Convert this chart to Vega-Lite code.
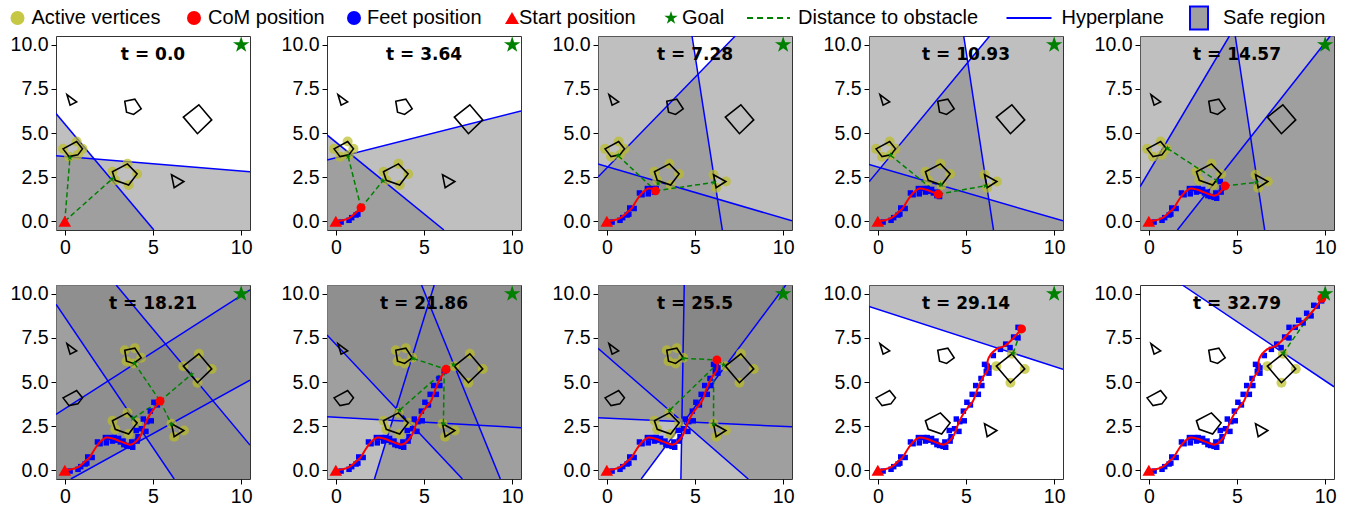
{
"$schema":"https://vega.github.io/schema/vega-lite/v6.json",
"padding":{"left":7,"top":7,"right":5,"bottom":5},
"background":"white",
"columns":5,
"spacing":{"row":55,"column":77},
"bounds":"flush",
"resolve":{"scale":{"fill":"independent","shape":"independent"},"legend":{"fill":"independent","shape":"independent"}},
"datasets":{
"obst":[
{"ob":"o1","k":0,"x":0.12,"y":7.18},{"ob":"o1","k":1,"x":0.67,"y":6.76},{"ob":"o1","k":2,"x":0.3,"y":6.58},
{"ob":"o2","k":0,"x":3.4,"y":6.8},{"ob":"o2","k":1,"x":3.97,"y":6.92},{"ob":"o2","k":2,"x":4.33,"y":6.37},{"ob":"o2","k":3,"x":3.9,"y":6.05},{"ob":"o2","k":4,"x":3.5,"y":6.18},
{"ob":"o3","k":0,"x":6.72,"y":5.9},{"ob":"o3","k":1,"x":7.6,"y":6.6},{"ob":"o3","k":2,"x":8.33,"y":5.74},{"ob":"o3","k":3,"x":7.52,"y":4.96},
{"ob":"o4","k":0,"x":-0.1,"y":4.1},{"ob":"o4","k":1,"x":0.67,"y":4.52},{"ob":"o4","k":2,"x":1.0,"y":4.1},{"ob":"o4","k":3,"x":0.74,"y":3.76},{"ob":"o4","k":4,"x":0.24,"y":3.66},
{"ob":"o5","k":0,"x":2.7,"y":2.8},{"ob":"o5","k":1,"x":3.55,"y":3.25},{"ob":"o5","k":2,"x":4.1,"y":2.68},{"ob":"o5","k":3,"x":3.62,"y":2.05},{"ob":"o5","k":4,"x":2.86,"y":2.32},
{"ob":"o6","k":0,"x":6.05,"y":2.63},{"ob":"o6","k":1,"x":6.75,"y":2.25},{"ob":"o6","k":2,"x":6.2,"y":1.9}
],
"traj":[
{"s":0,"x":0,"y":0},{"s":1,"x":0.4,"y":0.05},{"s":2,"x":0.8,"y":0.2},{"s":3,"x":1.1,"y":0.45},{"s":4,"x":1.43,"y":0.76},
{"s":5,"x":1.7,"y":1.2},{"s":6,"x":2.0,"y":1.6},{"s":7,"x":2.35,"y":1.85},{"s":8,"x":2.76,"y":1.78},{"s":9,"x":3.1,"y":1.65},
{"s":10,"x":3.43,"y":1.53},{"s":11,"x":3.75,"y":1.45},{"s":12,"x":4.0,"y":1.6},{"s":13,"x":4.32,"y":2.0},{"s":14,"x":4.55,"y":2.6},
{"s":15,"x":4.85,"y":3.2},{"s":16,"x":5.15,"y":3.6},{"s":17,"x":5.4,"y":3.92},{"s":18,"x":5.65,"y":4.6},{"s":19,"x":5.95,"y":5.25},
{"s":20,"x":6.25,"y":5.72},{"s":21,"x":6.24,"y":6.25},{"s":22,"x":6.7,"y":6.85},{"s":23,"x":7.2,"y":7.05},{"s":24,"x":7.65,"y":7.45},
{"s":25,"x":8.15,"y":8.01},{"s":26,"x":8.6,"y":8.3},{"s":27,"x":9.05,"y":8.75},{"s":28,"x":9.45,"y":9.2},{"s":29,"x":9.81,"y":9.75}
],
"feet":[
{"s":1,"x":0.3,"y":-0.05},{"s":1.5,"x":0.75,"y":0.05},{"s":2,"x":0.9,"y":0.2},{"s":3,"x":1.15,"y":0.35},{"s":3,"x":1.25,"y":0.4},
{"s":4.5,"x":1.3,"y":0.75},{"s":4.5,"x":1.55,"y":0.72},{"s":5.5,"x":1.85,"y":1.6},{"s":6,"x":2.0,"y":1.5},{"s":7,"x":2.3,"y":1.85},
{"s":7,"x":2.35,"y":1.55},{"s":7.5,"x":2.6,"y":1.85},{"s":8,"x":2.7,"y":1.65},{"s":8,"x":2.8,"y":1.85},{"s":8.5,"x":2.95,"y":1.7},
{"s":9,"x":3.05,"y":1.8},{"s":9,"x":3.15,"y":1.6},{"s":9.5,"x":3.3,"y":1.65},{"s":10,"x":3.35,"y":1.45},{"s":10,"x":3.5,"y":1.4},
{"s":10.5,"x":3.7,"y":1.35},{"s":11,"x":3.8,"y":1.6},{"s":11,"x":3.85,"y":1.3},{"s":12,"x":4.1,"y":1.65},{"s":13,"x":4.05,"y":2.25},
{"s":13,"x":4.15,"y":1.9},{"s":13.5,"x":4.35,"y":2.35},{"s":14,"x":4.45,"y":2.9},{"s":14,"x":4.6,"y":2.2},{"s":14.5,"x":4.65,"y":2.75},
{"s":15,"x":4.9,"y":2.8},{"s":15,"x":4.85,"y":3.35},{"s":16,"x":5.05,"y":3.85},{"s":16.5,"x":5.25,"y":3.7},{"s":17.5,"x":5.35,"y":4.3},
{"s":18,"x":5.55,"y":4.8},{"s":18,"x":5.7,"y":4.3},{"s":19,"x":5.85,"y":5.2},{"s":19,"x":5.9,"y":4.8},{"s":20,"x":6.15,"y":5.6},
{"s":20.5,"x":6.05,"y":6.0},{"s":20.5,"x":6.3,"y":5.8},{"s":21,"x":6.2,"y":5.9},{"s":21,"x":6.3,"y":5.5},{"s":22,"x":6.55,"y":6.5},
{"s":22.5,"x":6.95,"y":6.85},{"s":23,"x":7.25,"y":7.15},{"s":23.5,"x":7.5,"y":6.95},{"s":24,"x":7.7,"y":7.55},{"s":24.5,"x":7.95,"y":7.5},
{"s":25,"x":7.95,"y":8.1},{"s":25.5,"x":8.3,"y":8.1},{"s":26,"x":8.5,"y":8.5},{"s":26.5,"x":8.75,"y":8.35},{"s":27,"x":8.95,"y":8.9},
{"s":27.5,"x":9.2,"y":8.75},{"s":28,"x":9.35,"y":9.35},{"s":28.5,"x":9.55,"y":9.3},{"s":29,"x":9.8,"y":9.6}
],
"regions":[
{"p":1,"id":"1a","k":0,"x":-0.5,"y":6.1},{"p":1,"id":"1a","k":1,"x":5.05,"y":-0.5},{"p":1,"id":"1a","k":2,"x":-0.5,"y":-0.5},
{"p":1,"id":"1b","k":0,"x":-0.5,"y":3.71},{"p":1,"id":"1b","k":1,"x":10.5,"y":2.8},{"p":1,"id":"1b","k":2,"x":10.5,"y":-0.5},{"p":1,"id":"1b","k":3,"x":-0.5,"y":-0.5},
{"p":2,"id":"2a","k":0,"x":-0.5,"y":4.89},{"p":2,"id":"2a","k":1,"x":6.13,"y":-0.5},{"p":2,"id":"2a","k":2,"x":-0.5,"y":-0.5},
{"p":2,"id":"2b","k":0,"x":-0.5,"y":3.47},{"p":2,"id":"2b","k":1,"x":10.5,"y":6.25},{"p":2,"id":"2b","k":2,"x":10.5,"y":-0.5},{"p":2,"id":"2b","k":3,"x":-0.5,"y":-0.5},
{"p":3,"id":"3a","k":0,"x":-0.5,"y":2.5},{"p":3,"id":"3a","k":1,"x":7.28,"y":10.5},{"p":3,"id":"3a","k":2,"x":10.5,"y":10.5},{"p":3,"id":"3a","k":3,"x":10.5,"y":-0.5},{"p":3,"id":"3a","k":4,"x":-0.5,"y":-0.5},
{"p":3,"id":"3b","k":0,"x":-0.5,"y":3.24},{"p":3,"id":"3b","k":1,"x":10.5,"y":0.02},{"p":3,"id":"3b","k":2,"x":10.5,"y":-0.5},{"p":3,"id":"3b","k":3,"x":-0.5,"y":-0.5},
{"p":3,"id":"3c","k":0,"x":4.83,"y":10.5},{"p":3,"id":"3c","k":1,"x":6.55,"y":-0.5},{"p":3,"id":"3c","k":2,"x":-0.5,"y":-0.5},{"p":3,"id":"3c","k":3,"x":-0.5,"y":10.5},
{"p":4,"id":"4a","k":0,"x":-0.5,"y":2.23},{"p":4,"id":"4a","k":1,"x":6.34,"y":10.5},{"p":4,"id":"4a","k":2,"x":10.5,"y":10.5},{"p":4,"id":"4a","k":3,"x":10.5,"y":-0.5},{"p":4,"id":"4a","k":4,"x":-0.5,"y":-0.5},
{"p":4,"id":"4b","k":0,"x":-0.5,"y":3.22},{"p":4,"id":"4b","k":1,"x":10.5,"y":0.02},{"p":4,"id":"4b","k":2,"x":10.5,"y":-0.5},{"p":4,"id":"4b","k":3,"x":-0.5,"y":-0.5},
{"p":4,"id":"4c","k":0,"x":4.87,"y":10.5},{"p":4,"id":"4c","k":1,"x":6.56,"y":-0.5},{"p":4,"id":"4c","k":2,"x":-0.5,"y":-0.5},{"p":4,"id":"4c","k":3,"x":-0.5,"y":10.5},
{"p":5,"id":"5a","k":0,"x":-0.5,"y":1.95},{"p":5,"id":"5a","k":1,"x":4.57,"y":10.5},{"p":5,"id":"5a","k":2,"x":10.5,"y":10.5},{"p":5,"id":"5a","k":3,"x":10.5,"y":-0.5},{"p":5,"id":"5a","k":4,"x":-0.5,"y":-0.5},
{"p":5,"id":"5b","k":0,"x":1.62,"y":-0.5},{"p":5,"id":"5b","k":1,"x":10.29,"y":10.5},{"p":5,"id":"5b","k":2,"x":10.5,"y":10.5},{"p":5,"id":"5b","k":3,"x":10.5,"y":-0.5},
{"p":5,"id":"5c","k":0,"x":4.9,"y":10.5},{"p":5,"id":"5c","k":1,"x":6.57,"y":-0.5},{"p":5,"id":"5c","k":2,"x":-0.5,"y":-0.5},{"p":5,"id":"5c","k":3,"x":-0.5,"y":10.5},
{"p":6,"id":"6a","k":0,"x":-0.5,"y":9.41},{"p":6,"id":"6a","k":1,"x":6.2,"y":-0.5},{"p":6,"id":"6a","k":2,"x":10.5,"y":-0.5},{"p":6,"id":"6a","k":3,"x":10.5,"y":10.5},{"p":6,"id":"6a","k":4,"x":-0.5,"y":10.5},
{"p":6,"id":"6b","k":0,"x":2.91,"y":10.5},{"p":6,"id":"6b","k":1,"x":10.5,"y":1.42},{"p":6,"id":"6b","k":2,"x":10.5,"y":-0.5},{"p":6,"id":"6b","k":3,"x":-0.5,"y":-0.5},{"p":6,"id":"6b","k":4,"x":-0.5,"y":10.5},
{"p":6,"id":"6c","k":0,"x":-0.5,"y":3.16},{"p":6,"id":"6c","k":1,"x":10.5,"y":10.23},{"p":6,"id":"6c","k":2,"x":10.5,"y":-0.5},{"p":6,"id":"6c","k":3,"x":-0.5,"y":-0.5},
{"p":6,"id":"6d","k":0,"x":0.34,"y":-0.5},{"p":6,"id":"6d","k":1,"x":10.5,"y":5.11},{"p":6,"id":"6d","k":2,"x":10.5,"y":10.5},{"p":6,"id":"6d","k":3,"x":-0.5,"y":10.5},{"p":6,"id":"6d","k":4,"x":-0.5,"y":-0.5},
{"p":7,"id":"7a","k":0,"x":-0.5,"y":7.67},{"p":7,"id":"7a","k":1,"x":7.18,"y":-0.5},{"p":7,"id":"7a","k":2,"x":10.5,"y":-0.5},{"p":7,"id":"7a","k":3,"x":10.5,"y":10.5},{"p":7,"id":"7a","k":4,"x":-0.5,"y":10.5},
{"p":7,"id":"7b","k":0,"x":-0.5,"y":3.03},{"p":7,"id":"7b","k":1,"x":10.5,"y":2.41},{"p":7,"id":"7b","k":2,"x":10.5,"y":10.5},{"p":7,"id":"7b","k":3,"x":-0.5,"y":10.5},
{"p":7,"id":"7c","k":0,"x":2.19,"y":-0.5},{"p":7,"id":"7c","k":1,"x":5.58,"y":10.5},{"p":7,"id":"7c","k":2,"x":10.5,"y":10.5},{"p":7,"id":"7c","k":3,"x":10.5,"y":-0.5},
{"p":7,"id":"7d","k":0,"x":4.86,"y":10.5},{"p":7,"id":"7d","k":1,"x":9.33,"y":-0.5},{"p":7,"id":"7d","k":2,"x":-0.5,"y":-0.5},{"p":7,"id":"7d","k":3,"x":-0.5,"y":10.5},
{"p":8,"id":"8a","k":0,"x":-0.5,"y":6.91},{"p":8,"id":"8a","k":1,"x":8.02,"y":-0.5},{"p":8,"id":"8a","k":2,"x":10.5,"y":-0.5},{"p":8,"id":"8a","k":3,"x":10.5,"y":10.5},{"p":8,"id":"8a","k":4,"x":-0.5,"y":10.5},
{"p":8,"id":"8b","k":0,"x":-0.5,"y":2.97},{"p":8,"id":"8b","k":1,"x":10.5,"y":2.46},{"p":8,"id":"8b","k":2,"x":10.5,"y":10.5},{"p":8,"id":"8b","k":3,"x":-0.5,"y":10.5},
{"p":8,"id":"8c","k":0,"x":4.2,"y":-0.5},{"p":8,"id":"8c","k":1,"x":4.39,"y":10.5},{"p":8,"id":"8c","k":2,"x":10.5,"y":10.5},{"p":8,"id":"8c","k":3,"x":10.5,"y":-0.5},
{"p":8,"id":"8d","k":0,"x":1.95,"y":-0.5},{"p":8,"id":"8d","k":1,"x":10.15,"y":10.5},{"p":8,"id":"8d","k":2,"x":-0.5,"y":10.5},{"p":8,"id":"8d","k":3,"x":-0.5,"y":-0.5},
{"p":9,"id":"9a","k":0,"x":-0.5,"y":9.28},{"p":9,"id":"9a","k":1,"x":10.5,"y":5.72},{"p":9,"id":"9a","k":2,"x":10.5,"y":10.5},{"p":9,"id":"9a","k":3,"x":-0.5,"y":10.5},
{"p":10,"id":"10a","k":0,"x":1.9,"y":10.5},{"p":10,"id":"10a","k":1,"x":10.5,"y":4.73},{"p":10,"id":"10a","k":2,"x":10.5,"y":10.5}
],
"dash":[
{"p":1,"id":"a","e":0,"x":0,"y":0},{"p":1,"id":"a","e":1,"x":0.29,"y":3.6},{"p":1,"id":"b","e":0,"x":0,"y":0},{"p":1,"id":"b","e":1,"x":2.68,"y":2.39},
{"p":2,"id":"a","e":0,"x":1.43,"y":0.76},{"p":2,"id":"a","e":1,"x":0.7,"y":3.66},{"p":2,"id":"b","e":0,"x":1.43,"y":0.76},{"p":2,"id":"b","e":1,"x":2.67,"y":2.29},
{"p":3,"id":"a","e":0,"x":2.76,"y":1.72},{"p":3,"id":"a","e":1,"x":0.65,"y":3.71},{"p":3,"id":"b","e":0,"x":2.76,"y":1.72},{"p":3,"id":"b","e":1,"x":2.91,"y":2.14},{"p":3,"id":"c","e":0,"x":2.76,"y":1.72},{"p":3,"id":"c","e":1,"x":6.07,"y":2.2},
{"p":4,"id":"a","e":0,"x":3.43,"y":1.53},{"p":4,"id":"a","e":1,"x":0.71,"y":3.75},{"p":4,"id":"b","e":0,"x":3.43,"y":1.53},{"p":4,"id":"b","e":1,"x":3.57,"y":2.08},{"p":4,"id":"c","e":0,"x":3.43,"y":1.53},{"p":4,"id":"c","e":1,"x":6.1,"y":2.01},
{"p":5,"id":"a","e":0,"x":4.32,"y":2.0},{"p":5,"id":"a","e":1,"x":1.05,"y":4.13},{"p":5,"id":"b","e":0,"x":4.32,"y":2.0},{"p":5,"id":"b","e":1,"x":3.9,"y":2.29},{"p":5,"id":"c","e":0,"x":4.32,"y":2.0},{"p":5,"id":"c","e":1,"x":6.1,"y":2.2},
{"p":6,"id":"a","e":0,"x":5.4,"y":3.92},{"p":6,"id":"a","e":1,"x":3.95,"y":6.06},{"p":6,"id":"b","e":0,"x":5.4,"y":3.92},{"p":6,"id":"b","e":1,"x":7.19,"y":5.44},{"p":6,"id":"c","e":0,"x":5.4,"y":3.92},{"p":6,"id":"c","e":1,"x":3.86,"y":2.94},{"p":6,"id":"d","e":0,"x":5.4,"y":3.92},{"p":6,"id":"d","e":1,"x":6.05,"y":2.61},
{"p":7,"id":"a","e":0,"x":6.25,"y":5.72},{"p":7,"id":"a","e":1,"x":4.38,"y":6.34},{"p":7,"id":"b","e":0,"x":6.25,"y":5.72},{"p":7,"id":"b","e":1,"x":6.67,"y":6.0},{"p":7,"id":"c","e":0,"x":6.25,"y":5.72},{"p":7,"id":"c","e":1,"x":3.62,"y":3.41},{"p":7,"id":"d","e":0,"x":6.15,"y":5.72},{"p":7,"id":"d","e":1,"x":6.1,"y":2.65},
{"p":8,"id":"a","e":0,"x":6.24,"y":6.25},{"p":8,"id":"a","e":1,"x":4.33,"y":6.34},{"p":8,"id":"b","e":0,"x":6.24,"y":6.25},{"p":8,"id":"b","e":1,"x":6.62,"y":5.98},{"p":8,"id":"c","e":0,"x":6.24,"y":6.0},{"p":8,"id":"c","e":1,"x":3.57,"y":3.41},{"p":8,"id":"d","e":0,"x":6.06,"y":6.0},{"p":8,"id":"d","e":1,"x":6.05,"y":2.61},
{"p":9,"id":"a","e":0,"x":8.15,"y":8.01},{"p":9,"id":"a","e":1,"x":7.67,"y":6.63},
{"p":10,"id":"a","e":0,"x":9.81,"y":9.75},{"p":10,"id":"a","e":1,"x":7.62,"y":6.63}
],
"com":[
{"p":2,"x":1.43,"y":0.76},{"p":3,"x":2.76,"y":1.72},{"p":4,"x":3.43,"y":1.53},{"p":5,"x":4.32,"y":2.0},
{"p":6,"x":5.4,"y":3.92},{"p":7,"x":6.25,"y":5.72},{"p":8,"x":6.24,"y":6.25},{"p":9,"x":8.15,"y":8.01},{"p":10,"x":9.81,"y":9.75}
],
"marks":[{"kind":"start","x":0,"y":0},{"kind":"goal","x":10,"y":10}],
"titles":[{"p":1,"label":"t = 0.0"},{"p":2,"label":"t = 3.64"},{"p":3,"label":"t = 7.28"},{"p":4,"label":"t = 10.93"},{"p":5,"label":"t = 14.57"},{"p":6,"label":"t = 18.21"},{"p":7,"label":"t = 21.86"},{"p":8,"label":"t = 25.5"},{"p":9,"label":"t = 29.14"},{"p":10,"label":"t = 32.79"}]
},
"concat":[
{"width":194,"height":194,"layer":[
{"encoding":{"x":{"field":"x","type":"quantitative","scale":{"domain":[-0.5,10.5],"nice":false,"zero":false},"axis":{"values":[0,5,10],"format":"d","title":null}},"y":{"field":"y","type":"quantitative","scale":{"domain":[-0.5,10.5],"nice":false,"zero":false},"axis":{"values":[0,2.5,5,7.5,10],"format":".1f","title":null}}},
"layer":[
{"data":{"name":"regions"},"transform":[{"filter":"datum.p==1"}],"mark":{"type":"line","interpolate":"linear-closed","fill":"#808080","fillOpacity":0.5,"strokeOpacity":0,"clip":true},"encoding":{"detail":{"field":"id","type":"nominal"},"order":{"field":"k","type":"quantitative"}}},
{"data":{"name":"regions"},"transform":[{"filter":"datum.p==1 && datum.k<2"}],"mark":{"type":"line","color":"#0000ff","strokeWidth":1.5,"clip":true},"encoding":{"detail":{"field":"id","type":"nominal"}}},
{"data":{"name":"obst"},"transform":[{"filter":"indexof(['o4','o5'],datum.ob)>=0"}],"mark":{"type":"circle","color":"#bcbd22","opacity":0.7,"size":100}},
{"data":{"name":"obst"},"mark":{"type":"line","interpolate":"linear-closed","color":"black","strokeWidth":1.6},"encoding":{"detail":{"field":"ob","type":"nominal"},"order":{"field":"k","type":"quantitative"}}},
{"data":{"name":"dash"},"transform":[{"filter":"datum.p==1"}],"mark":{"type":"line","color":"#008000","strokeWidth":1.5,"strokeDash":[5,3]},"encoding":{"detail":{"field":"id","type":"nominal"}}},
{"data":{"name":"dash"},"transform":[{"filter":"datum.p==1 && datum.e==1"}],"mark":{"type":"point","shape":"M0,-1L0.2245,-0.309L0.9511,-0.309L0.3633,0.118L0.5878,0.809L0,0.382L-0.5878,0.809L-0.3633,0.118L-0.9511,-0.309L-0.2245,-0.309Z","filled":true,"color":"#008000","size":40,"opacity":1}},
{"data":{"name":"marks"},"transform":[{"filter":"datum.kind=='start'"}],"mark":{"type":"point","shape":"triangle-up","filled":true,"color":"#ff0000","size":160,"opacity":1}},
{"data":{"name":"marks"},"transform":[{"filter":"datum.kind=='goal'"}],"mark":{"type":"point","shape":"M0,-1L0.2245,-0.309L0.9511,-0.309L0.3633,0.118L0.5878,0.809L0,0.382L-0.5878,0.809L-0.3633,0.118L-0.9511,-0.309L-0.2245,-0.309Z","filled":true,"color":"#008000","size":300,"opacity":1}},
{"data":{"values":[{"la":"Active vertices"}]},"mark":{"type":"circle","opacity":1},"encoding":{"fill":{"field":"la","type":"nominal","scale":{"domain":["Active vertices"],"range":["#bcbd22"]},"legend":{"title":null,"orient":"none","legendX":-48.5,"legendY":-28,"symbolType":"circle","symbolSize":196,"symbolStrokeWidth":0,"symbolOpacity":0.85,"labelOffset":4}}}},
{"data":{"values":[{"lb":"CoM position"}]},"mark":{"type":"point","filled":true,"color":"#ff0000","opacity":1},"encoding":{"shape":{"field":"lb","type":"nominal","scale":{"domain":["CoM position"],"range":["circle"]},"legend":{"title":null,"orient":"none","legendX":128,"legendY":-28,"symbolSize":196,"symbolStrokeWidth":0,"labelOffset":4}}}},
{"data":{"values":[{"ld":"Start position"}]},"mark":{"type":"point","shape":"triangle-up","filled":true,"color":"#ff0000"},"encoding":{"opacity":{"field":"ld","type":"nominal","scale":{"domain":["Start position"],"range":[1]},"legend":{"title":null,"orient":"none","legendX":446,"legendY":-28,"symbolType":"triangle-up","symbolSize":196,"symbolFillColor":"#ff0000","symbolStrokeWidth":0,"labelOffset":-3}}}},
{"data":{"values":[{"lf":"Distance to obstacle"}]},"mark":{"type":"line","color":"#008000","strokeWidth":2},"encoding":{"strokeDash":{"field":"lf","type":"nominal","scale":{"domain":["Distance to obstacle"],"range":[[6,4]]},"legend":{"title":null,"orient":"none","legendX":702.5,"legendY":-28,"symbolType":"M-3.58,0H3.58","symbolSize":144,"symbolStrokeWidth":2,"symbolStrokeColor":"#008000","labelOffset":19.5}}}},
{"data":{"values":[{"lg":"Hyperplane"}]},"mark":{"type":"line","strokeWidth":2},"encoding":{"stroke":{"field":"lg","type":"nominal","scale":{"domain":["Hyperplane"],"range":["#0000ff"]},"legend":{"title":null,"orient":"none","legendX":963,"legendY":-28,"symbolType":"M-3.75,0H3.75","symbolSize":144,"symbolStrokeWidth":2,"labelOffset":22.5}}}}
]},
{"data":{"name":"titles"},"transform":[{"filter":"datum.p==1"}],"mark":{"type":"text","font":"DejaVu Sans","fontSize":17,"fontWeight":"bold","color":"black","align":"center","baseline":"middle"},"encoding":{"x":{"datum":5,"type":"quantitative","scale":{"domain":[-0.5,10.5],"nice":false,"zero":false},"axis":{"values":[0,5,10],"format":"d","title":null}},"y":{"datum":9.42,"type":"quantitative","scale":{"domain":[-0.5,10.5],"nice":false,"zero":false},"axis":{"values":[0,2.5,5,7.5,10],"format":".1f","title":null}},"text":{"field":"label","type":"nominal"}}}
]},
{"width":194,"height":194,"layer":[
{"encoding":{"x":{"field":"x","type":"quantitative","scale":{"domain":[-0.5,10.5],"nice":false,"zero":false},"axis":{"values":[0,5,10],"format":"d","title":null}},"y":{"field":"y","type":"quantitative","scale":{"domain":[-0.5,10.5],"nice":false,"zero":false},"axis":{"values":[0,2.5,5,7.5,10],"format":".1f","title":null}}},
"layer":[
{"data":{"name":"regions"},"transform":[{"filter":"datum.p==2"}],"mark":{"type":"line","interpolate":"linear-closed","fill":"#808080","fillOpacity":0.5,"strokeOpacity":0,"clip":true},"encoding":{"detail":{"field":"id","type":"nominal"},"order":{"field":"k","type":"quantitative"}}},
{"data":{"name":"regions"},"transform":[{"filter":"datum.p==2 && datum.k<2"}],"mark":{"type":"line","color":"#0000ff","strokeWidth":1.5,"clip":true},"encoding":{"detail":{"field":"id","type":"nominal"}}},
{"data":{"name":"obst"},"transform":[{"filter":"indexof(['o4','o5'],datum.ob)>=0"}],"mark":{"type":"circle","color":"#bcbd22","opacity":0.7,"size":100}},
{"data":{"name":"obst"},"mark":{"type":"line","interpolate":"linear-closed","color":"black","strokeWidth":1.6},"encoding":{"detail":{"field":"ob","type":"nominal"},"order":{"field":"k","type":"quantitative"}}},
{"data":{"name":"dash"},"transform":[{"filter":"datum.p==2"}],"mark":{"type":"line","color":"#008000","strokeWidth":1.5,"strokeDash":[5,3]},"encoding":{"detail":{"field":"id","type":"nominal"}}},
{"data":{"name":"dash"},"transform":[{"filter":"datum.p==2 && datum.e==1"}],"mark":{"type":"point","shape":"M0,-1L0.2245,-0.309L0.9511,-0.309L0.3633,0.118L0.5878,0.809L0,0.382L-0.5878,0.809L-0.3633,0.118L-0.9511,-0.309L-0.2245,-0.309Z","filled":true,"color":"#008000","size":40,"opacity":1}},
{"data":{"name":"feet"},"transform":[{"filter":"datum.s<=4"}],"mark":{"type":"square","color":"#0000ff","size":30,"opacity":1}},
{"data":{"name":"traj"},"transform":[{"filter":"datum.s<=4"}],"mark":{"type":"line","color":"#ff0000","strokeWidth":2,"interpolate":"catmull-rom"},"encoding":{"order":{"field":"s","type":"quantitative"}}},
{"data":{"name":"com"},"transform":[{"filter":"datum.p==2"}],"mark":{"type":"circle","color":"#ff0000","size":80,"opacity":1}},
{"data":{"name":"marks"},"transform":[{"filter":"datum.kind=='start'"}],"mark":{"type":"point","shape":"triangle-up","filled":true,"color":"#ff0000","size":160,"opacity":1}},
{"data":{"name":"marks"},"transform":[{"filter":"datum.kind=='goal'"}],"mark":{"type":"point","shape":"M0,-1L0.2245,-0.309L0.9511,-0.309L0.3633,0.118L0.5878,0.809L0,0.382L-0.5878,0.809L-0.3633,0.118L-0.9511,-0.309L-0.2245,-0.309Z","filled":true,"color":"#008000","size":300,"opacity":1}},
{"data":{"values":[{"lc":"Feet position"}]},"mark":{"type":"circle","opacity":1},"encoding":{"fill":{"field":"lc","type":"nominal","scale":{"domain":["Feet position"],"range":["#0000ff"]},"legend":{"title":null,"orient":"none","legendX":17,"legendY":-28,"symbolType":"circle","symbolSize":196,"symbolStrokeWidth":0,"labelOffset":3}}}}
]},
{"data":{"name":"titles"},"transform":[{"filter":"datum.p==2"}],"mark":{"type":"text","font":"DejaVu Sans","fontSize":17,"fontWeight":"bold","color":"black","align":"center","baseline":"middle"},"encoding":{"x":{"datum":5,"type":"quantitative","scale":{"domain":[-0.5,10.5],"nice":false,"zero":false},"axis":{"values":[0,5,10],"format":"d","title":null}},"y":{"datum":9.42,"type":"quantitative","scale":{"domain":[-0.5,10.5],"nice":false,"zero":false},"axis":{"values":[0,2.5,5,7.5,10],"format":".1f","title":null}},"text":{"field":"label","type":"nominal"}}}
]},
{"width":194,"height":194,"layer":[
{"encoding":{"x":{"field":"x","type":"quantitative","scale":{"domain":[-0.5,10.5],"nice":false,"zero":false},"axis":{"values":[0,5,10],"format":"d","title":null}},"y":{"field":"y","type":"quantitative","scale":{"domain":[-0.5,10.5],"nice":false,"zero":false},"axis":{"values":[0,2.5,5,7.5,10],"format":".1f","title":null}}},
"layer":[
{"data":{"name":"regions"},"transform":[{"filter":"datum.p==3"}],"mark":{"type":"line","interpolate":"linear-closed","fill":"#808080","fillOpacity":0.5,"strokeOpacity":0,"clip":true},"encoding":{"detail":{"field":"id","type":"nominal"},"order":{"field":"k","type":"quantitative"}}},
{"data":{"name":"regions"},"transform":[{"filter":"datum.p==3 && datum.k<2"}],"mark":{"type":"line","color":"#0000ff","strokeWidth":1.5,"clip":true},"encoding":{"detail":{"field":"id","type":"nominal"}}},
{"data":{"name":"obst"},"transform":[{"filter":"indexof(['o4','o5','o6'],datum.ob)>=0"}],"mark":{"type":"circle","color":"#bcbd22","opacity":0.7,"size":100}},
{"data":{"name":"obst"},"mark":{"type":"line","interpolate":"linear-closed","color":"black","strokeWidth":1.6},"encoding":{"detail":{"field":"ob","type":"nominal"},"order":{"field":"k","type":"quantitative"}}},
{"data":{"name":"dash"},"transform":[{"filter":"datum.p==3"}],"mark":{"type":"line","color":"#008000","strokeWidth":1.5,"strokeDash":[5,3]},"encoding":{"detail":{"field":"id","type":"nominal"}}},
{"data":{"name":"dash"},"transform":[{"filter":"datum.p==3 && datum.e==1"}],"mark":{"type":"point","shape":"M0,-1L0.2245,-0.309L0.9511,-0.309L0.3633,0.118L0.5878,0.809L0,0.382L-0.5878,0.809L-0.3633,0.118L-0.9511,-0.309L-0.2245,-0.309Z","filled":true,"color":"#008000","size":40,"opacity":1}},
{"data":{"name":"feet"},"transform":[{"filter":"datum.s<=8"}],"mark":{"type":"square","color":"#0000ff","size":30,"opacity":1}},
{"data":{"name":"traj"},"transform":[{"filter":"datum.s<=8"}],"mark":{"type":"line","color":"#ff0000","strokeWidth":2,"interpolate":"catmull-rom"},"encoding":{"order":{"field":"s","type":"quantitative"}}},
{"data":{"name":"com"},"transform":[{"filter":"datum.p==3"}],"mark":{"type":"circle","color":"#ff0000","size":80,"opacity":1}},
{"data":{"name":"marks"},"transform":[{"filter":"datum.kind=='start'"}],"mark":{"type":"point","shape":"triangle-up","filled":true,"color":"#ff0000","size":160,"opacity":1}},
{"data":{"name":"marks"},"transform":[{"filter":"datum.kind=='goal'"}],"mark":{"type":"point","shape":"M0,-1L0.2245,-0.309L0.9511,-0.309L0.3633,0.118L0.5878,0.809L0,0.382L-0.5878,0.809L-0.3633,0.118L-0.9511,-0.309L-0.2245,-0.309Z","filled":true,"color":"#008000","size":300,"opacity":1}},
{"data":{"values":[{"le":"Goal"}]},"mark":{"type":"point","filled":true,"color":"#008000","opacity":1},"encoding":{"shape":{"field":"le","type":"nominal","scale":{"domain":["Goal"],"range":["M0,-1L0.2245,-0.309L0.9511,-0.309L0.3633,0.118L0.5878,0.809L0,0.382L-0.5878,0.809L-0.3633,0.118L-0.9511,-0.309L-0.2245,-0.309Z"]},"legend":{"title":null,"orient":"none","legendX":63,"legendY":-28,"symbolSize":196,"symbolStrokeWidth":0,"labelOffset":1}}}}
]},
{"data":{"name":"titles"},"transform":[{"filter":"datum.p==3"}],"mark":{"type":"text","font":"DejaVu Sans","fontSize":17,"fontWeight":"bold","color":"black","align":"center","baseline":"middle"},"encoding":{"x":{"datum":5,"type":"quantitative","scale":{"domain":[-0.5,10.5],"nice":false,"zero":false},"axis":{"values":[0,5,10],"format":"d","title":null}},"y":{"datum":9.42,"type":"quantitative","scale":{"domain":[-0.5,10.5],"nice":false,"zero":false},"axis":{"values":[0,2.5,5,7.5,10],"format":".1f","title":null}},"text":{"field":"label","type":"nominal"}}}
]},
{"width":194,"height":194,"layer":[
{"encoding":{"x":{"field":"x","type":"quantitative","scale":{"domain":[-0.5,10.5],"nice":false,"zero":false},"axis":{"values":[0,5,10],"format":"d","title":null}},"y":{"field":"y","type":"quantitative","scale":{"domain":[-0.5,10.5],"nice":false,"zero":false},"axis":{"values":[0,2.5,5,7.5,10],"format":".1f","title":null}}},
"layer":[
{"data":{"name":"regions"},"transform":[{"filter":"datum.p==4"}],"mark":{"type":"line","interpolate":"linear-closed","fill":"#808080","fillOpacity":0.5,"strokeOpacity":0,"clip":true},"encoding":{"detail":{"field":"id","type":"nominal"},"order":{"field":"k","type":"quantitative"}}},
{"data":{"name":"regions"},"transform":[{"filter":"datum.p==4 && datum.k<2"}],"mark":{"type":"line","color":"#0000ff","strokeWidth":1.5,"clip":true},"encoding":{"detail":{"field":"id","type":"nominal"}}},
{"data":{"name":"obst"},"transform":[{"filter":"indexof(['o4','o5','o6'],datum.ob)>=0"}],"mark":{"type":"circle","color":"#bcbd22","opacity":0.7,"size":100}},
{"data":{"name":"obst"},"mark":{"type":"line","interpolate":"linear-closed","color":"black","strokeWidth":1.6},"encoding":{"detail":{"field":"ob","type":"nominal"},"order":{"field":"k","type":"quantitative"}}},
{"data":{"name":"dash"},"transform":[{"filter":"datum.p==4"}],"mark":{"type":"line","color":"#008000","strokeWidth":1.5,"strokeDash":[5,3]},"encoding":{"detail":{"field":"id","type":"nominal"}}},
{"data":{"name":"dash"},"transform":[{"filter":"datum.p==4 && datum.e==1"}],"mark":{"type":"point","shape":"M0,-1L0.2245,-0.309L0.9511,-0.309L0.3633,0.118L0.5878,0.809L0,0.382L-0.5878,0.809L-0.3633,0.118L-0.9511,-0.309L-0.2245,-0.309Z","filled":true,"color":"#008000","size":40,"opacity":1}},
{"data":{"name":"feet"},"transform":[{"filter":"datum.s<=10"}],"mark":{"type":"square","color":"#0000ff","size":30,"opacity":1}},
{"data":{"name":"traj"},"transform":[{"filter":"datum.s<=10"}],"mark":{"type":"line","color":"#ff0000","strokeWidth":2,"interpolate":"catmull-rom"},"encoding":{"order":{"field":"s","type":"quantitative"}}},
{"data":{"name":"com"},"transform":[{"filter":"datum.p==4"}],"mark":{"type":"circle","color":"#ff0000","size":80,"opacity":1}},
{"data":{"name":"marks"},"transform":[{"filter":"datum.kind=='start'"}],"mark":{"type":"point","shape":"triangle-up","filled":true,"color":"#ff0000","size":160,"opacity":1}},
{"data":{"name":"marks"},"transform":[{"filter":"datum.kind=='goal'"}],"mark":{"type":"point","shape":"M0,-1L0.2245,-0.309L0.9511,-0.309L0.3633,0.118L0.5878,0.809L0,0.382L-0.5878,0.809L-0.3633,0.118L-0.9511,-0.309L-0.2245,-0.309Z","filled":true,"color":"#008000","size":300,"opacity":1}}
]},
{"data":{"name":"titles"},"transform":[{"filter":"datum.p==4"}],"mark":{"type":"text","font":"DejaVu Sans","fontSize":17,"fontWeight":"bold","color":"black","align":"center","baseline":"middle"},"encoding":{"x":{"datum":5,"type":"quantitative","scale":{"domain":[-0.5,10.5],"nice":false,"zero":false},"axis":{"values":[0,5,10],"format":"d","title":null}},"y":{"datum":9.42,"type":"quantitative","scale":{"domain":[-0.5,10.5],"nice":false,"zero":false},"axis":{"values":[0,2.5,5,7.5,10],"format":".1f","title":null}},"text":{"field":"label","type":"nominal"}}}
]},
{"width":194,"height":194,"layer":[
{"encoding":{"x":{"field":"x","type":"quantitative","scale":{"domain":[-0.5,10.5],"nice":false,"zero":false},"axis":{"values":[0,5,10],"format":"d","title":null}},"y":{"field":"y","type":"quantitative","scale":{"domain":[-0.5,10.5],"nice":false,"zero":false},"axis":{"values":[0,2.5,5,7.5,10],"format":".1f","title":null}}},
"layer":[
{"data":{"name":"regions"},"transform":[{"filter":"datum.p==5"}],"mark":{"type":"line","interpolate":"linear-closed","fill":"#808080","fillOpacity":0.5,"strokeOpacity":0,"clip":true},"encoding":{"detail":{"field":"id","type":"nominal"},"order":{"field":"k","type":"quantitative"}}},
{"data":{"name":"regions"},"transform":[{"filter":"datum.p==5 && datum.k<2"}],"mark":{"type":"line","color":"#0000ff","strokeWidth":1.5,"clip":true},"encoding":{"detail":{"field":"id","type":"nominal"}}},
{"data":{"name":"obst"},"transform":[{"filter":"indexof(['o4','o5','o6'],datum.ob)>=0"}],"mark":{"type":"circle","color":"#bcbd22","opacity":0.7,"size":100}},
{"data":{"name":"obst"},"mark":{"type":"line","interpolate":"linear-closed","color":"black","strokeWidth":1.6},"encoding":{"detail":{"field":"ob","type":"nominal"},"order":{"field":"k","type":"quantitative"}}},
{"data":{"name":"dash"},"transform":[{"filter":"datum.p==5"}],"mark":{"type":"line","color":"#008000","strokeWidth":1.5,"strokeDash":[5,3]},"encoding":{"detail":{"field":"id","type":"nominal"}}},
{"data":{"name":"dash"},"transform":[{"filter":"datum.p==5 && datum.e==1"}],"mark":{"type":"point","shape":"M0,-1L0.2245,-0.309L0.9511,-0.309L0.3633,0.118L0.5878,0.809L0,0.382L-0.5878,0.809L-0.3633,0.118L-0.9511,-0.309L-0.2245,-0.309Z","filled":true,"color":"#008000","size":40,"opacity":1}},
{"data":{"name":"feet"},"transform":[{"filter":"datum.s<=13"}],"mark":{"type":"square","color":"#0000ff","size":30,"opacity":1}},
{"data":{"name":"traj"},"transform":[{"filter":"datum.s<=13"}],"mark":{"type":"line","color":"#ff0000","strokeWidth":2,"interpolate":"catmull-rom"},"encoding":{"order":{"field":"s","type":"quantitative"}}},
{"data":{"name":"com"},"transform":[{"filter":"datum.p==5"}],"mark":{"type":"circle","color":"#ff0000","size":80,"opacity":1}},
{"data":{"name":"marks"},"transform":[{"filter":"datum.kind=='start'"}],"mark":{"type":"point","shape":"triangle-up","filled":true,"color":"#ff0000","size":160,"opacity":1}},
{"data":{"name":"marks"},"transform":[{"filter":"datum.kind=='goal'"}],"mark":{"type":"point","shape":"M0,-1L0.2245,-0.309L0.9511,-0.309L0.3633,0.118L0.5878,0.809L0,0.382L-0.5878,0.809L-0.3633,0.118L-0.9511,-0.309L-0.2245,-0.309Z","filled":true,"color":"#008000","size":300,"opacity":1}},
{"data":{"values":[{"lh":"Safe region"}]},"mark":{"type":"point","filled":true,"stroke":"#0000ff","strokeWidth":2,"opacity":1},"encoding":{"fill":{"field":"lh","type":"nominal","scale":{"domain":["Safe region"],"range":["#a0a0a0"]},"legend":{"title":null,"orient":"none","legendX":49,"legendY":-28,"symbolType":"M-1.5,-1.9H1.5V1.9H-1.5Z","symbolSize":144,"symbolStrokeColor":"#0000ff","symbolStrokeWidth":2,"labelOffset":14}}}}
]},
{"data":{"name":"titles"},"transform":[{"filter":"datum.p==5"}],"mark":{"type":"text","font":"DejaVu Sans","fontSize":17,"fontWeight":"bold","color":"black","align":"center","baseline":"middle"},"encoding":{"x":{"datum":5,"type":"quantitative","scale":{"domain":[-0.5,10.5],"nice":false,"zero":false},"axis":{"values":[0,5,10],"format":"d","title":null}},"y":{"datum":9.42,"type":"quantitative","scale":{"domain":[-0.5,10.5],"nice":false,"zero":false},"axis":{"values":[0,2.5,5,7.5,10],"format":".1f","title":null}},"text":{"field":"label","type":"nominal"}}}
]},
{"width":194,"height":194,"layer":[
{"encoding":{"x":{"field":"x","type":"quantitative","scale":{"domain":[-0.5,10.5],"nice":false,"zero":false},"axis":{"values":[0,5,10],"format":"d","title":null}},"y":{"field":"y","type":"quantitative","scale":{"domain":[-0.5,10.5],"nice":false,"zero":false},"axis":{"values":[0,2.5,5,7.5,10],"format":".1f","title":null}}},
"layer":[
{"data":{"name":"regions"},"transform":[{"filter":"datum.p==6"}],"mark":{"type":"line","interpolate":"linear-closed","fill":"#808080","fillOpacity":0.5,"strokeOpacity":0,"clip":true},"encoding":{"detail":{"field":"id","type":"nominal"},"order":{"field":"k","type":"quantitative"}}},
{"data":{"name":"regions"},"transform":[{"filter":"datum.p==6 && datum.k<2"}],"mark":{"type":"line","color":"#0000ff","strokeWidth":1.5,"clip":true},"encoding":{"detail":{"field":"id","type":"nominal"}}},
{"data":{"name":"obst"},"transform":[{"filter":"indexof(['o2','o3','o5','o6'],datum.ob)>=0"}],"mark":{"type":"circle","color":"#bcbd22","opacity":0.7,"size":100}},
{"data":{"name":"obst"},"mark":{"type":"line","interpolate":"linear-closed","color":"black","strokeWidth":1.6},"encoding":{"detail":{"field":"ob","type":"nominal"},"order":{"field":"k","type":"quantitative"}}},
{"data":{"name":"dash"},"transform":[{"filter":"datum.p==6"}],"mark":{"type":"line","color":"#008000","strokeWidth":1.5,"strokeDash":[5,3]},"encoding":{"detail":{"field":"id","type":"nominal"}}},
{"data":{"name":"dash"},"transform":[{"filter":"datum.p==6 && datum.e==1"}],"mark":{"type":"point","shape":"M0,-1L0.2245,-0.309L0.9511,-0.309L0.3633,0.118L0.5878,0.809L0,0.382L-0.5878,0.809L-0.3633,0.118L-0.9511,-0.309L-0.2245,-0.309Z","filled":true,"color":"#008000","size":40,"opacity":1}},
{"data":{"name":"feet"},"transform":[{"filter":"datum.s<=17"}],"mark":{"type":"square","color":"#0000ff","size":30,"opacity":1}},
{"data":{"name":"traj"},"transform":[{"filter":"datum.s<=17"}],"mark":{"type":"line","color":"#ff0000","strokeWidth":2,"interpolate":"catmull-rom"},"encoding":{"order":{"field":"s","type":"quantitative"}}},
{"data":{"name":"com"},"transform":[{"filter":"datum.p==6"}],"mark":{"type":"circle","color":"#ff0000","size":80,"opacity":1}},
{"data":{"name":"marks"},"transform":[{"filter":"datum.kind=='start'"}],"mark":{"type":"point","shape":"triangle-up","filled":true,"color":"#ff0000","size":160,"opacity":1}},
{"data":{"name":"marks"},"transform":[{"filter":"datum.kind=='goal'"}],"mark":{"type":"point","shape":"M0,-1L0.2245,-0.309L0.9511,-0.309L0.3633,0.118L0.5878,0.809L0,0.382L-0.5878,0.809L-0.3633,0.118L-0.9511,-0.309L-0.2245,-0.309Z","filled":true,"color":"#008000","size":300,"opacity":1}}
]},
{"data":{"name":"titles"},"transform":[{"filter":"datum.p==6"}],"mark":{"type":"text","font":"DejaVu Sans","fontSize":17,"fontWeight":"bold","color":"black","align":"center","baseline":"middle"},"encoding":{"x":{"datum":5,"type":"quantitative","scale":{"domain":[-0.5,10.5],"nice":false,"zero":false},"axis":{"values":[0,5,10],"format":"d","title":null}},"y":{"datum":9.42,"type":"quantitative","scale":{"domain":[-0.5,10.5],"nice":false,"zero":false},"axis":{"values":[0,2.5,5,7.5,10],"format":".1f","title":null}},"text":{"field":"label","type":"nominal"}}}
]},
{"width":194,"height":194,"layer":[
{"encoding":{"x":{"field":"x","type":"quantitative","scale":{"domain":[-0.5,10.5],"nice":false,"zero":false},"axis":{"values":[0,5,10],"format":"d","title":null}},"y":{"field":"y","type":"quantitative","scale":{"domain":[-0.5,10.5],"nice":false,"zero":false},"axis":{"values":[0,2.5,5,7.5,10],"format":".1f","title":null}}},
"layer":[
{"data":{"name":"regions"},"transform":[{"filter":"datum.p==7"}],"mark":{"type":"line","interpolate":"linear-closed","fill":"#808080","fillOpacity":0.5,"strokeOpacity":0,"clip":true},"encoding":{"detail":{"field":"id","type":"nominal"},"order":{"field":"k","type":"quantitative"}}},
{"data":{"name":"regions"},"transform":[{"filter":"datum.p==7 && datum.k<2"}],"mark":{"type":"line","color":"#0000ff","strokeWidth":1.5,"clip":true},"encoding":{"detail":{"field":"id","type":"nominal"}}},
{"data":{"name":"obst"},"transform":[{"filter":"indexof(['o2','o3','o5','o6'],datum.ob)>=0"}],"mark":{"type":"circle","color":"#bcbd22","opacity":0.7,"size":100}},
{"data":{"name":"obst"},"mark":{"type":"line","interpolate":"linear-closed","color":"black","strokeWidth":1.6},"encoding":{"detail":{"field":"ob","type":"nominal"},"order":{"field":"k","type":"quantitative"}}},
{"data":{"name":"dash"},"transform":[{"filter":"datum.p==7"}],"mark":{"type":"line","color":"#008000","strokeWidth":1.5,"strokeDash":[5,3]},"encoding":{"detail":{"field":"id","type":"nominal"}}},
{"data":{"name":"dash"},"transform":[{"filter":"datum.p==7 && datum.e==1"}],"mark":{"type":"point","shape":"M0,-1L0.2245,-0.309L0.9511,-0.309L0.3633,0.118L0.5878,0.809L0,0.382L-0.5878,0.809L-0.3633,0.118L-0.9511,-0.309L-0.2245,-0.309Z","filled":true,"color":"#008000","size":40,"opacity":1}},
{"data":{"name":"feet"},"transform":[{"filter":"datum.s<=20"}],"mark":{"type":"square","color":"#0000ff","size":30,"opacity":1}},
{"data":{"name":"traj"},"transform":[{"filter":"datum.s<=20"}],"mark":{"type":"line","color":"#ff0000","strokeWidth":2,"interpolate":"catmull-rom"},"encoding":{"order":{"field":"s","type":"quantitative"}}},
{"data":{"name":"com"},"transform":[{"filter":"datum.p==7"}],"mark":{"type":"circle","color":"#ff0000","size":80,"opacity":1}},
{"data":{"name":"marks"},"transform":[{"filter":"datum.kind=='start'"}],"mark":{"type":"point","shape":"triangle-up","filled":true,"color":"#ff0000","size":160,"opacity":1}},
{"data":{"name":"marks"},"transform":[{"filter":"datum.kind=='goal'"}],"mark":{"type":"point","shape":"M0,-1L0.2245,-0.309L0.9511,-0.309L0.3633,0.118L0.5878,0.809L0,0.382L-0.5878,0.809L-0.3633,0.118L-0.9511,-0.309L-0.2245,-0.309Z","filled":true,"color":"#008000","size":300,"opacity":1}}
]},
{"data":{"name":"titles"},"transform":[{"filter":"datum.p==7"}],"mark":{"type":"text","font":"DejaVu Sans","fontSize":17,"fontWeight":"bold","color":"black","align":"center","baseline":"middle"},"encoding":{"x":{"datum":5,"type":"quantitative","scale":{"domain":[-0.5,10.5],"nice":false,"zero":false},"axis":{"values":[0,5,10],"format":"d","title":null}},"y":{"datum":9.42,"type":"quantitative","scale":{"domain":[-0.5,10.5],"nice":false,"zero":false},"axis":{"values":[0,2.5,5,7.5,10],"format":".1f","title":null}},"text":{"field":"label","type":"nominal"}}}
]},
{"width":194,"height":194,"layer":[
{"encoding":{"x":{"field":"x","type":"quantitative","scale":{"domain":[-0.5,10.5],"nice":false,"zero":false},"axis":{"values":[0,5,10],"format":"d","title":null}},"y":{"field":"y","type":"quantitative","scale":{"domain":[-0.5,10.5],"nice":false,"zero":false},"axis":{"values":[0,2.5,5,7.5,10],"format":".1f","title":null}}},
"layer":[
{"data":{"name":"regions"},"transform":[{"filter":"datum.p==8"}],"mark":{"type":"line","interpolate":"linear-closed","fill":"#808080","fillOpacity":0.5,"strokeOpacity":0,"clip":true},"encoding":{"detail":{"field":"id","type":"nominal"},"order":{"field":"k","type":"quantitative"}}},
{"data":{"name":"regions"},"transform":[{"filter":"datum.p==8 && datum.k<2"}],"mark":{"type":"line","color":"#0000ff","strokeWidth":1.5,"clip":true},"encoding":{"detail":{"field":"id","type":"nominal"}}},
{"data":{"name":"obst"},"transform":[{"filter":"indexof(['o2','o3','o5','o6'],datum.ob)>=0"}],"mark":{"type":"circle","color":"#bcbd22","opacity":0.7,"size":100}},
{"data":{"name":"obst"},"mark":{"type":"line","interpolate":"linear-closed","color":"black","strokeWidth":1.6},"encoding":{"detail":{"field":"ob","type":"nominal"},"order":{"field":"k","type":"quantitative"}}},
{"data":{"name":"dash"},"transform":[{"filter":"datum.p==8"}],"mark":{"type":"line","color":"#008000","strokeWidth":1.5,"strokeDash":[5,3]},"encoding":{"detail":{"field":"id","type":"nominal"}}},
{"data":{"name":"dash"},"transform":[{"filter":"datum.p==8 && datum.e==1"}],"mark":{"type":"point","shape":"M0,-1L0.2245,-0.309L0.9511,-0.309L0.3633,0.118L0.5878,0.809L0,0.382L-0.5878,0.809L-0.3633,0.118L-0.9511,-0.309L-0.2245,-0.309Z","filled":true,"color":"#008000","size":40,"opacity":1}},
{"data":{"name":"feet"},"transform":[{"filter":"datum.s<=21"}],"mark":{"type":"square","color":"#0000ff","size":30,"opacity":1}},
{"data":{"name":"traj"},"transform":[{"filter":"datum.s<=21"}],"mark":{"type":"line","color":"#ff0000","strokeWidth":2,"interpolate":"catmull-rom"},"encoding":{"order":{"field":"s","type":"quantitative"}}},
{"data":{"name":"com"},"transform":[{"filter":"datum.p==8"}],"mark":{"type":"circle","color":"#ff0000","size":80,"opacity":1}},
{"data":{"name":"marks"},"transform":[{"filter":"datum.kind=='start'"}],"mark":{"type":"point","shape":"triangle-up","filled":true,"color":"#ff0000","size":160,"opacity":1}},
{"data":{"name":"marks"},"transform":[{"filter":"datum.kind=='goal'"}],"mark":{"type":"point","shape":"M0,-1L0.2245,-0.309L0.9511,-0.309L0.3633,0.118L0.5878,0.809L0,0.382L-0.5878,0.809L-0.3633,0.118L-0.9511,-0.309L-0.2245,-0.309Z","filled":true,"color":"#008000","size":300,"opacity":1}}
]},
{"data":{"name":"titles"},"transform":[{"filter":"datum.p==8"}],"mark":{"type":"text","font":"DejaVu Sans","fontSize":17,"fontWeight":"bold","color":"black","align":"center","baseline":"middle"},"encoding":{"x":{"datum":5,"type":"quantitative","scale":{"domain":[-0.5,10.5],"nice":false,"zero":false},"axis":{"values":[0,5,10],"format":"d","title":null}},"y":{"datum":9.42,"type":"quantitative","scale":{"domain":[-0.5,10.5],"nice":false,"zero":false},"axis":{"values":[0,2.5,5,7.5,10],"format":".1f","title":null}},"text":{"field":"label","type":"nominal"}}}
]},
{"width":194,"height":194,"layer":[
{"encoding":{"x":{"field":"x","type":"quantitative","scale":{"domain":[-0.5,10.5],"nice":false,"zero":false},"axis":{"values":[0,5,10],"format":"d","title":null}},"y":{"field":"y","type":"quantitative","scale":{"domain":[-0.5,10.5],"nice":false,"zero":false},"axis":{"values":[0,2.5,5,7.5,10],"format":".1f","title":null}}},
"layer":[
{"data":{"name":"regions"},"transform":[{"filter":"datum.p==9"}],"mark":{"type":"line","interpolate":"linear-closed","fill":"#808080","fillOpacity":0.5,"strokeOpacity":0,"clip":true},"encoding":{"detail":{"field":"id","type":"nominal"},"order":{"field":"k","type":"quantitative"}}},
{"data":{"name":"regions"},"transform":[{"filter":"datum.p==9 && datum.k<2"}],"mark":{"type":"line","color":"#0000ff","strokeWidth":1.5,"clip":true},"encoding":{"detail":{"field":"id","type":"nominal"}}},
{"data":{"name":"obst"},"transform":[{"filter":"indexof(['o3'],datum.ob)>=0"}],"mark":{"type":"circle","color":"#bcbd22","opacity":0.7,"size":100}},
{"data":{"name":"obst"},"mark":{"type":"line","interpolate":"linear-closed","color":"black","strokeWidth":1.6},"encoding":{"detail":{"field":"ob","type":"nominal"},"order":{"field":"k","type":"quantitative"}}},
{"data":{"name":"dash"},"transform":[{"filter":"datum.p==9"}],"mark":{"type":"line","color":"#008000","strokeWidth":1.5,"strokeDash":[5,3]},"encoding":{"detail":{"field":"id","type":"nominal"}}},
{"data":{"name":"dash"},"transform":[{"filter":"datum.p==9 && datum.e==1"}],"mark":{"type":"point","shape":"M0,-1L0.2245,-0.309L0.9511,-0.309L0.3633,0.118L0.5878,0.809L0,0.382L-0.5878,0.809L-0.3633,0.118L-0.9511,-0.309L-0.2245,-0.309Z","filled":true,"color":"#008000","size":40,"opacity":1}},
{"data":{"name":"feet"},"transform":[{"filter":"datum.s<=25"}],"mark":{"type":"square","color":"#0000ff","size":30,"opacity":1}},
{"data":{"name":"traj"},"transform":[{"filter":"datum.s<=25"}],"mark":{"type":"line","color":"#ff0000","strokeWidth":2,"interpolate":"catmull-rom"},"encoding":{"order":{"field":"s","type":"quantitative"}}},
{"data":{"name":"com"},"transform":[{"filter":"datum.p==9"}],"mark":{"type":"circle","color":"#ff0000","size":80,"opacity":1}},
{"data":{"name":"marks"},"transform":[{"filter":"datum.kind=='start'"}],"mark":{"type":"point","shape":"triangle-up","filled":true,"color":"#ff0000","size":160,"opacity":1}},
{"data":{"name":"marks"},"transform":[{"filter":"datum.kind=='goal'"}],"mark":{"type":"point","shape":"M0,-1L0.2245,-0.309L0.9511,-0.309L0.3633,0.118L0.5878,0.809L0,0.382L-0.5878,0.809L-0.3633,0.118L-0.9511,-0.309L-0.2245,-0.309Z","filled":true,"color":"#008000","size":300,"opacity":1}}
]},
{"data":{"name":"titles"},"transform":[{"filter":"datum.p==9"}],"mark":{"type":"text","font":"DejaVu Sans","fontSize":17,"fontWeight":"bold","color":"black","align":"center","baseline":"middle"},"encoding":{"x":{"datum":5,"type":"quantitative","scale":{"domain":[-0.5,10.5],"nice":false,"zero":false},"axis":{"values":[0,5,10],"format":"d","title":null}},"y":{"datum":9.42,"type":"quantitative","scale":{"domain":[-0.5,10.5],"nice":false,"zero":false},"axis":{"values":[0,2.5,5,7.5,10],"format":".1f","title":null}},"text":{"field":"label","type":"nominal"}}}
]},
{"width":194,"height":194,"layer":[
{"encoding":{"x":{"field":"x","type":"quantitative","scale":{"domain":[-0.5,10.5],"nice":false,"zero":false},"axis":{"values":[0,5,10],"format":"d","title":null}},"y":{"field":"y","type":"quantitative","scale":{"domain":[-0.5,10.5],"nice":false,"zero":false},"axis":{"values":[0,2.5,5,7.5,10],"format":".1f","title":null}}},
"layer":[
{"data":{"name":"regions"},"transform":[{"filter":"datum.p==10"}],"mark":{"type":"line","interpolate":"linear-closed","fill":"#808080","fillOpacity":0.5,"strokeOpacity":0,"clip":true},"encoding":{"detail":{"field":"id","type":"nominal"},"order":{"field":"k","type":"quantitative"}}},
{"data":{"name":"regions"},"transform":[{"filter":"datum.p==10 && datum.k<2"}],"mark":{"type":"line","color":"#0000ff","strokeWidth":1.5,"clip":true},"encoding":{"detail":{"field":"id","type":"nominal"}}},
{"data":{"name":"obst"},"transform":[{"filter":"indexof(['o3'],datum.ob)>=0"}],"mark":{"type":"circle","color":"#bcbd22","opacity":0.7,"size":100}},
{"data":{"name":"obst"},"mark":{"type":"line","interpolate":"linear-closed","color":"black","strokeWidth":1.6},"encoding":{"detail":{"field":"ob","type":"nominal"},"order":{"field":"k","type":"quantitative"}}},
{"data":{"name":"dash"},"transform":[{"filter":"datum.p==10"}],"mark":{"type":"line","color":"#008000","strokeWidth":1.5,"strokeDash":[5,3]},"encoding":{"detail":{"field":"id","type":"nominal"}}},
{"data":{"name":"dash"},"transform":[{"filter":"datum.p==10 && datum.e==1"}],"mark":{"type":"point","shape":"M0,-1L0.2245,-0.309L0.9511,-0.309L0.3633,0.118L0.5878,0.809L0,0.382L-0.5878,0.809L-0.3633,0.118L-0.9511,-0.309L-0.2245,-0.309Z","filled":true,"color":"#008000","size":40,"opacity":1}},
{"data":{"name":"feet"},"transform":[{"filter":"datum.s<=29"}],"mark":{"type":"square","color":"#0000ff","size":30,"opacity":1}},
{"data":{"name":"traj"},"transform":[{"filter":"datum.s<=29"}],"mark":{"type":"line","color":"#ff0000","strokeWidth":2,"interpolate":"catmull-rom"},"encoding":{"order":{"field":"s","type":"quantitative"}}},
{"data":{"name":"com"},"transform":[{"filter":"datum.p==10"}],"mark":{"type":"circle","color":"#ff0000","size":80,"opacity":1}},
{"data":{"name":"marks"},"transform":[{"filter":"datum.kind=='start'"}],"mark":{"type":"point","shape":"triangle-up","filled":true,"color":"#ff0000","size":160,"opacity":1}},
{"data":{"name":"marks"},"transform":[{"filter":"datum.kind=='goal'"}],"mark":{"type":"point","shape":"M0,-1L0.2245,-0.309L0.9511,-0.309L0.3633,0.118L0.5878,0.809L0,0.382L-0.5878,0.809L-0.3633,0.118L-0.9511,-0.309L-0.2245,-0.309Z","filled":true,"color":"#008000","size":300,"opacity":1}}
]},
{"data":{"name":"titles"},"transform":[{"filter":"datum.p==10"}],"mark":{"type":"text","font":"DejaVu Sans","fontSize":17,"fontWeight":"bold","color":"black","align":"center","baseline":"middle"},"encoding":{"x":{"datum":5,"type":"quantitative","scale":{"domain":[-0.5,10.5],"nice":false,"zero":false},"axis":{"values":[0,5,10],"format":"d","title":null}},"y":{"datum":9.42,"type":"quantitative","scale":{"domain":[-0.5,10.5],"nice":false,"zero":false},"axis":{"values":[0,2.5,5,7.5,10],"format":".1f","title":null}},"text":{"field":"label","type":"nominal"}}}
]}
],
"config":{
"view":{"stroke":"#333333","strokeWidth":1},
"axis":{"domain":false,"grid":false,"tickColor":"black","tickSize":5,"tickWidth":1,"labelFont":"Liberation Sans","labelFontSize":19.5,"labelColor":"black","labelPadding":3,"labelFlush":false},
"legend":{"labelFont":"Liberation Sans","labelFontSize":20,"labelColor":"black","padding":0,"labelLimit":400}
}
}
